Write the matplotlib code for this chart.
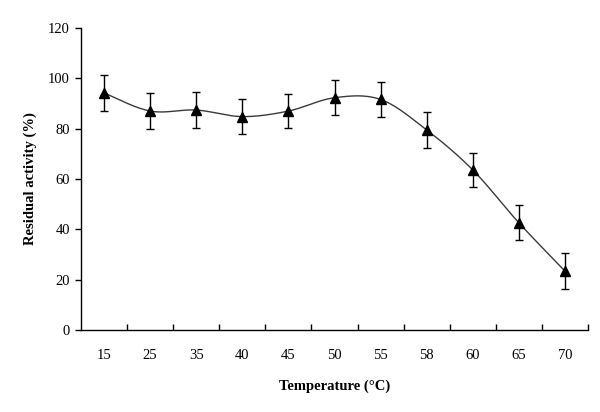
import numpy as np
import matplotlib
matplotlib.use("Agg")
import matplotlib.pyplot as plt
from matplotlib.ticker import FixedLocator, NullFormatter

categories = ["15", "25", "35", "40", "45", "50", "55", "58", "60", "65", "70"]
activity = [94.2, 87.0, 87.4, 84.8, 87.0, 92.3, 91.6, 79.5, 63.6, 42.6, 23.4]
errors = [7.0, 7.0, 7.1, 6.9, 6.9, 6.9, 6.9, 7.0, 6.9, 7.0, 7.1]

plt.rcParams['font.family'] = ['Liberation Serif', 'DejaVu Serif']

fig = plt.figure(figsize=(6.0, 4.12), dpi=100)
ax = fig.add_axes([81/600, 1 - 330/412, (588-81)/600, (330-28)/412])

x = np.arange(len(categories), dtype=float)
y = np.array(activity, dtype=float)

# Excel-style smoothed line (Catmull-Rom / Bezier through the data points)
xs, ys = [], []
n = len(x)
for i in range(n - 1):
    p0 = np.array([x[max(i-1, 0)], y[max(i-1, 0)]])
    p1 = np.array([x[i], y[i]])
    p2 = np.array([x[i+1], y[i+1]])
    p3 = np.array([x[min(i+2, n-1)], y[min(i+2, n-1)]])
    c1 = p1 + (p2 - p0) / 6.0
    c2 = p2 - (p3 - p1) / 6.0
    t = np.linspace(0, 1, 30)[:, None]
    seg = ((1-t)**3) * p1 + 3*((1-t)**2)*t*c1 + 3*(1-t)*t**2*c2 + t**3*p2
    xs.extend(seg[:, 0]); ys.extend(seg[:, 1])
ax.plot(xs, ys, color='#3a3a3a', lw=1.0, zorder=2)

ax.errorbar(x, y, yerr=errors, fmt='none', ecolor='black', elinewidth=1.0,
            capsize=3.0, capthick=1.0, zorder=3)
ax.plot(x, y, linestyle='none', marker='^', markersize=7, color='black', zorder=4)

ax.set_xlim(-0.5, n - 0.5)
ax.set_ylim(0, 120)
ax.set_yticks(range(0, 121, 20))
ax.set_xticks(x)
ax.set_xticklabels(categories)
ax.xaxis.set_minor_locator(FixedLocator(np.arange(0.5, n, 1.0)))
ax.xaxis.set_minor_formatter(NullFormatter())
ax.tick_params(axis='x', which='major', length=0, pad=14, labelsize=10.5)
ax.tick_params(axis='x', which='minor', direction='in', length=4, width=1)
ax.tick_params(axis='y', direction='out', length=4, width=1, labelsize=10.5, pad=4)

for s in ['top', 'right']:
    ax.spines[s].set_visible(False)
for s in ['left', 'bottom']:
    ax.spines[s].set_linewidth(1.0)

ax.set_xlabel('Temperature (°C)', fontsize=10.5, fontweight='bold', labelpad=12)
ax.set_ylabel('Residual activity (%)', fontsize=10.5, fontweight='bold', labelpad=8)

fig.savefig('out.png', dpi=100)
